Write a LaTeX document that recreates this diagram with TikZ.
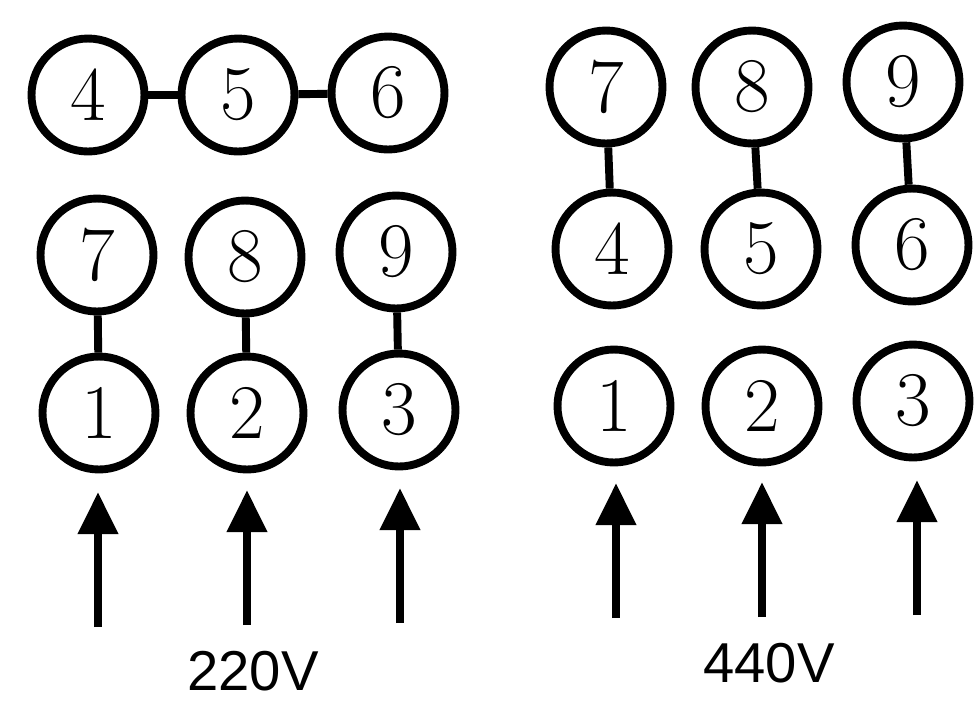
\documentclass[tikz,border=0pt]{standalone}
\usepackage{fontspec}
\usetikzlibrary{arrows.meta}
\newfontfamily\voltfont{Liberation Sans}

\begin{document}
\begin{tikzpicture}[x=0.02cm, y=-0.02cm,
       term/.style={draw, circle, line width=4.5pt, minimum size=2.26cm, inner sep=0pt, font=\fontsize{44}{44}\selectfont},
       link/.style={line width=4.5pt},
       feed/.style={line width=5pt, -{Triangle[width=22pt,length=24pt]}},
       volt/.style={font=\voltfont\fontsize{32}{32}\selectfont}]
       \useasboundingbox[fill=white] (0,0) rectangle (980,708);

       % 220V
       \node(L4)[term] at (88,95) {4};
       \node(L5)[term] at (238,95) {5};
       \node(L6)[term] at (388,93) {6};
       \draw[link] (L4) -- (L5);
       \draw[link] (L5) -- (L6);

       \node(L7)[term] at (97,255) {7};
       \node(L8)[term] at (245,257) {8};
       \node(L9)[term] at (396,252) {9};

       \node(L1)[term] at (99,413) {1};
       \node(L2)[term] at (247,413) {2};
       \node(L3)[term] at (399,410) {3};
       \draw[link] (L7) -- (L1);
       \draw[link] (L8) -- (L2);
       \draw[link] (L9) -- (L3);

       \coordinate(LT1) at (98,627);
       \coordinate(LH1) at (98,492);
       \coordinate(LT2) at (247,625);
       \coordinate(LH2) at (247,490);
       \coordinate(LT3) at (400,623);
       \coordinate(LH3) at (400,488);
       \draw[feed] (LT1) -- (LH1);
       \draw[feed] (LT2) -- (LH2);
       \draw[feed] (LT3) -- (LH3);

       \node(V220)[volt] at (253,671) {220V};

       % 440V
       \node(R7)[term] at (606,87) {7};
       \node(R8)[term] at (752,87) {8};
       \node(R9)[term] at (903,82) {9};

       \node(R4)[term] at (612,249) {4};
       \node(R5)[term] at (761,249) {5};
       \node(R6)[term] at (912,245) {6};
       \draw[link] (R7) -- (R4);
       \draw[link] (R8) -- (R5);
       \draw[link] (R9) -- (R6);

       \node(R1)[term] at (614,406) {1};
       \node(R2)[term] at (762,406) {2};
       \node(R3)[term] at (913,401) {3};

       \coordinate(RT1) at (616,618);
       \coordinate(RH1) at (616,483);
       \coordinate(RT2) at (762,617);
       \coordinate(RH2) at (762,482);
       \coordinate(RT3) at (917,615);
       \coordinate(RH3) at (917,480);
       \draw[feed] (RT1) -- (RH1);
       \draw[feed] (RT2) -- (RH2);
       \draw[feed] (RT3) -- (RH3);

       \node(V440)[volt] at (769,663) {440V};
\end{tikzpicture}
\end{document}
